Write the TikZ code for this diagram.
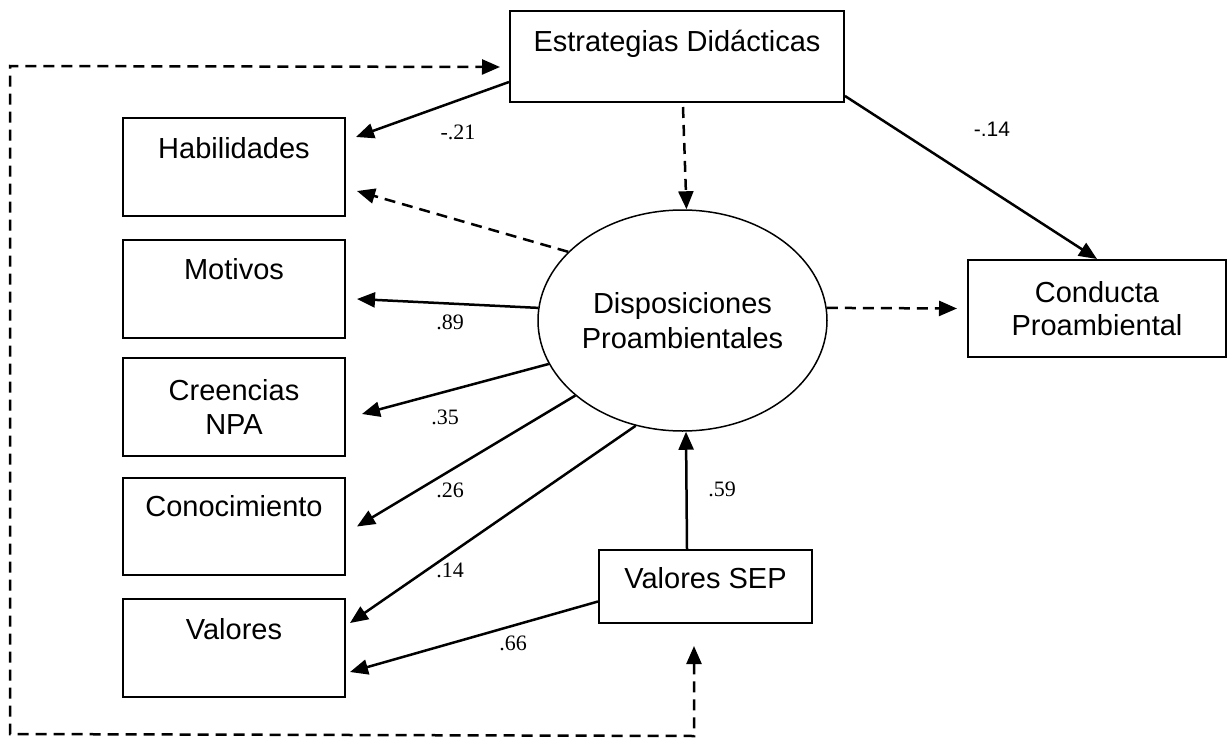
\documentclass[tikz,border=0pt]{standalone}
\usepackage{fontspec}
\setmainfont{Liberation Sans}
\newfontfamily\timesfont{Liberation Serif}
\usetikzlibrary{arrows.meta,shapes.geometric,calc}
\begin{document}
\begin{tikzpicture}[x=0.5pt,y=-0.5pt,
  boxfont/.style={font=\fontsize{14.5}{17}\selectfont},
  varbox/.style={draw, line width=1pt, rectangle, inner sep=0pt, anchor=north west, boxfont},
  twobox/.style={varbox, align=center},
  latent/.style={draw, ellipse, line width=0.75pt, inner sep=0pt, align=center,
    font=\fontsize{14.5}{17.5}\selectfont},
  tip/.style={-{Triangle[length=9pt,width=7.5pt]}},
  solidarrow/.style={tip, line width=1.25pt},
  dasharrow/.style={tip, line width=1.25pt, dash pattern=on 5.5pt off 3.5pt},
  coef/.style={inner sep=0pt, font=\timesfont\fontsize{11}{13}\selectfont},
  coefsans/.style={inner sep=0pt, font=\fontsize{10.5}{12}\selectfont}
]
\useasboundingbox (0,0) rectangle (1227,744);

% boxes
\node[varbox, minimum width=167pt, text height=20pt, text depth=25.5pt] (est) at (509,10) {Estrategias Didácticas};
\node[varbox, minimum width=111pt, text height=20pt, text depth=29pt] (hab) at (122,117) {Habilidades};
\node[varbox, minimum width=111pt, text height=19.5pt, text depth=29.5pt] (mot) at (122,239) {Motivos};
\node[twobox, minimum width=111pt, minimum height=49pt] (cre) at (122,357) {Creencias\\NPA};
\node[varbox, minimum width=111pt, text height=19pt, text depth=29.5pt] (con) at (122,477) {Conocimiento};
\node[varbox, minimum width=111pt, text height=20pt, text depth=29pt] (val) at (122,598) {Valores};
\node[varbox, minimum width=106.5pt, text height=19pt, text depth=17.5pt] (sep) at (598,549) {Valores SEP};
\node[twobox, minimum width=129pt, minimum height=48.5pt, font=\fontsize{14.5}{16.5}\selectfont] (cond) at (967,259) {Conducta\\Proambiental};
\node[latent, minimum width=144.5pt, minimum height=110.5pt] (disp) at (682.5,320.5) {Disposiciones\\Proambientales};

% connectors
\draw[solidarrow] ($(est.west)+(0,25.5)$) -- ($(hab.east)+(10,-30)$);
\draw[dasharrow] ($(est.south)+(6,4)$) -- ($(disp.north)+(4,0)$);
\draw[solidarrow] ($(est.east)+(0,39.5)$) -- (cond.north);
\draw[dasharrow] (disp.149.5) -- ($(hab.east)+(11,24)$);
\draw[solidarrow] (disp.175) -- ($(mot.east)+(11,10)$);
\draw[solidarrow] (disp.198.8) -- ($(cre.east)+(16,7)$);
\draw[solidarrow] (disp.215.4) -- ($(con.east)+(11,0)$);
\draw[solidarrow] (disp.246.2) -- ($(val.east)+(4,-25)$);
\draw[dasharrow] (disp.5) -- ($(cond.west)+(-10,0)$);
\draw[solidarrow] ($(sep.north)+(-18.5,0)$) -- ($(disp.south)+(3.5,0)$);
\draw[solidarrow] ($(sep.west)+(0,15)$) -- ($(val.east)+(4,24)$);

\coordinate (loopa) at ($(sep.south)+(-11.5,112)$);
\coordinate (loopb) at (10,734);
\coordinate (loopc) at (10,66);
\draw[dasharrow, {Triangle[length=9pt,width=7.5pt]}-{Triangle[length=9pt,width=7.5pt]}]
  ($(sep.south)+(-11.5,22)$) -- (loopa) -- (loopb) -- (loopc) -- ($(est.west)+(-9,10.5)$);

% coefficients
\node[coef] (c21) at (458,132) {-.21};
\node[coefsans] (c14a) at (992,129) {-.14};
\node[coef] (c89) at (450,322) {.89};
\node[coef] (c35) at (445,417) {.35};
\node[coef] (c26) at (450,490) {.26};
\node[coef] (c14) at (450,570) {.14};
\node[coef] (c66) at (513,643) {.66};
\node[coef] (c59) at (722,489) {.59};
\end{tikzpicture}
\end{document}
